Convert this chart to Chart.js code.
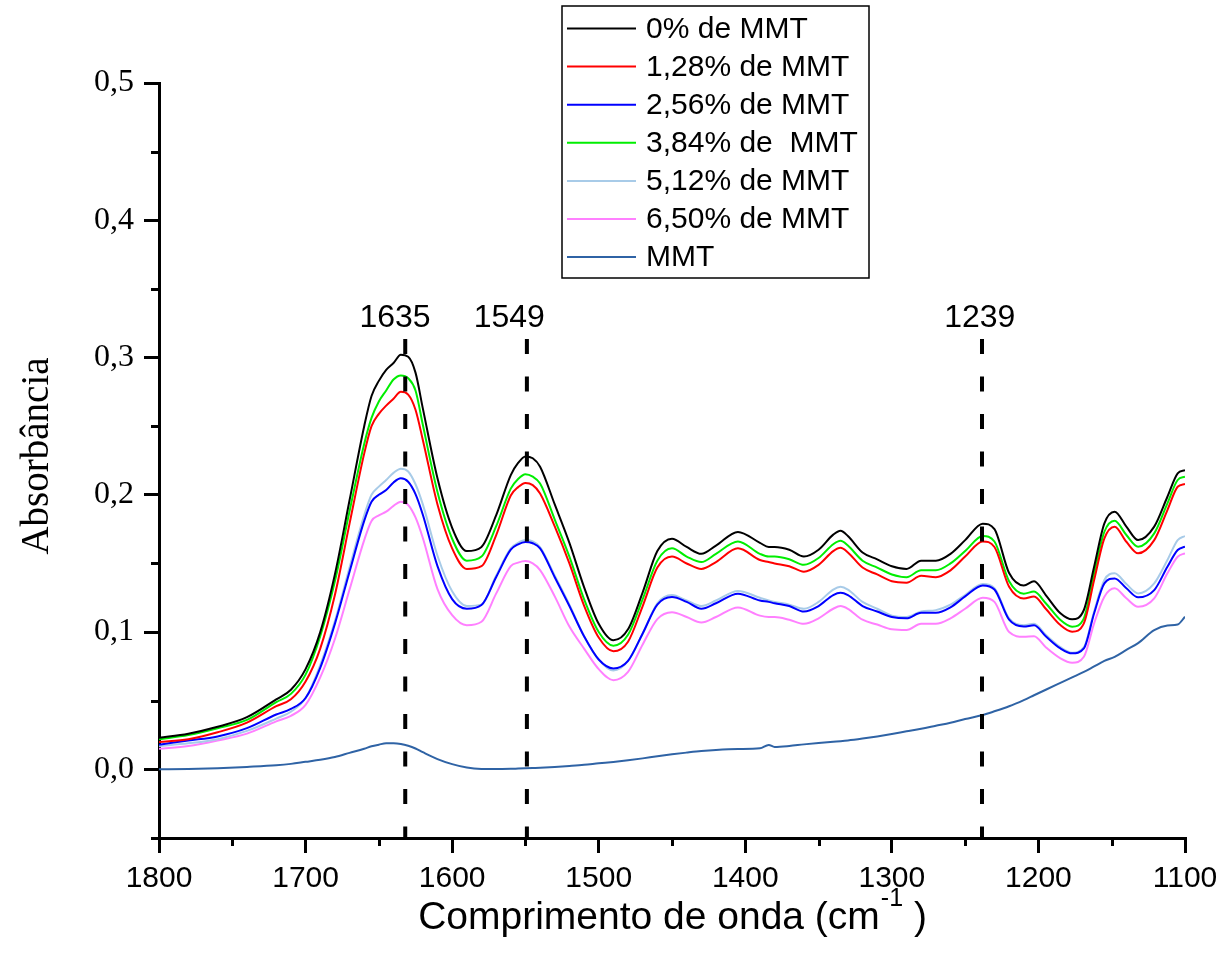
<!DOCTYPE html>
<html>
<head>
<meta charset="utf-8">
<script src="https://cdn.jsdelivr.net/npm/chart.js@4.4.1/dist/chart.umd.min.js"></script>
<style>
  body { margin: 0; background: #fff; }
  canvas { display: block; }
</style>
</head>
<body>
<canvas id="chart" width="1229" height="969"></canvas>
<script>
const wavenumber = [1800,1780,1760,1740,1720,1710,1700,1690,1680,1670,1660,1655,1650,1645,1640,1635,1630,1625,1620,1610,1600,1590,1580,1570,1560,1555,1550,1545,1540,1530,1520,1510,1500,1490,1480,1470,1460,1450,1440,1430,1420,1405,1390,1384,1380,1370,1360,1350,1340,1335,1330,1320,1310,1300,1290,1280,1270,1260,1250,1238,1230,1220,1210,1203,1195,1185,1177,1169,1162,1155,1148,1140,1132,1121,1112,1105,1100];

const mmt0 = [.023,.026,.031,.038,.051,.058,.073,.100,.142,.196,.250,.272,.283,.291,.296,.302,.3006,.289,.263,.212,.176,.159,.162,.185,.2144,.2232,.228,.2266,.2205,.193,.165,.1328,.106,.094,.102,.129,.159,.168,.162,.157,.163,.173,.165,.162,.162,.160,.155,.160,.171,.1738,.170,.158,.153,.148,.146,.152,.152,.157,.167,.179,.175,.143,.134,.137,.127,.1137,.1093,.1161,.1476,.1792,.1877,.1768,.167,.1768,.1986,.2156,.218];
const mmt128 = [.020,.022,.027,.034,.046,.051,.064,.088,.127,.179,.230,.250,.259,.265,.270,.275,.273,.262,.240,.193,.161,.146,.148,.1705,.1995,.2056,.2087,.2071,.201,.177,.150,.1193,.096,.086,.093,.119,.147,.155,.150,.146,.151,.161,.1525,.151,.150,.148,.144,.149,.159,.1614,.158,.147,.142,.137,.136,.141,.140,.145,.155,.166,.162,.133,.1245,.126,.117,.1051,.1003,.1064,.1379,.1683,.1768,.1658,.1574,.167,.1889,.2059,.2079];
const mmt256 = [.018,.021,.024,.030,.040,.044,.052,.074,.106,.144,.181,.195,.200,.2035,.209,.212,.2095,.2005,.1855,.148,.124,.117,.1197,.140,.160,.1639,.1657,.1647,.161,.140,.119,.097,.080,.0735,.079,.099,.120,.1255,.122,.117,.121,.128,.123,.122,.121,.119,.115,.119,.127,.1287,.127,.119,.115,.111,.110,.114,.114,.118,.126,.134,.131,.109,.104,.105,.097,.0881,.0845,.0881,.1137,.1355,.1391,.1319,.1253,.1306,.1476,.1598,.1622];
const mmt384 = [.022,.025,.030,.036,.049,.055,.069,.097,.137,.188,.237,.256,.268,.276,.284,.287,.285,.276,.251,.202,.168,.152,.155,.177,.2045,.2115,.215,.2132,.2083,.182,.155,.124,.100,.090,.098,.124,.152,.161,.155,.151,.157,.166,.157,.155,.155,.153,.149,.154,.164,.1665,.163,.152,.147,.142,.140,.145,.145,.150,.159,.170,.166,.137,.128,.1295,.121,.1088,.1039,.110,.1428,.1731,.1811,.1707,.1622,.1719,.1938,.2108,.2132];
const mmt512 = [.017,.019,.022,.028,.037,.042,.052,.076,.108,.147,.185,.200,.206,.2108,.216,.219,.217,.2077,.193,.1556,.1297,.119,.120,.141,.161,.165,.167,.166,.162,.141,.120,.097,.080,.072,.079,.099,.121,.127,.123,.119,.123,.130,.125,.123,.122,.120,.117,.122,.131,.133,.131,.122,.117,.112,.111,.115,.116,.120,.127,.135,.132,.110,.105,.106,.098,.089,.085,.089,.115,.138,.1428,.135,.1282,.1355,.1525,.167,.170];
const mmt650 = [.015,.017,.021,.026,.035,.039,.047,.067,.095,.131,.167,.181,.185,.1877,.192,.195,.1926,.1835,.1685,.1313,.1123,.105,.1075,.128,.148,.1506,.1517,.150,.1452,.126,.104,.088,.073,.065,.071,.091,.1095,.1145,.111,.107,.111,.118,.112,.111,.111,.109,.106,.110,.117,.119,.117,.109,.1055,.102,.1015,.106,.106,.110,.117,.125,.122,.100,.0966,.097,.089,.0809,.0777,.082,.1064,.1258,.1319,.1246,.1185,.1246,.1428,.1549,.1574];
const mmtPure = [0,.0002,.0008,.0018,.003,.004,.0055,.007,.009,.012,.015,.0168,.018,.019,.019,.0185,.0172,.0152,.0125,.0075,.0038,.0013,.0003,.0002,.0004,.0006,.0008,.001,.0012,.0018,.0025,.0033,.0044,.0054,.0066,.008,.0096,.011,.0122,.0133,.0141,.0148,.0153,.0178,.0163,.017,.0182,.0192,.0201,.0205,.021,.0224,.024,.0258,.0277,.0296,.0318,.034,.0367,.0396,.0423,.046,.0505,.054,.058,.063,.067,.071,.075,.079,.082,.087,.092,.1015,.1048,.1055,.1112];

const seriesNames = ['0% de MMT', '1,28% de MMT', '2,56% de MMT', '3,84% de  MMT', '5,12% de MMT', '6,50% de MMT', 'MMT'];
const seriesValues = [mmt0, mmt128, mmt256, mmt384, mmt512, mmt650, mmtPure];
const seriesColors = ['#000000', '#ff0000', '#0000ff', '#00ee00', '#a8cbe8', '#ff80ff', '#2f63a5'];

const peakLines = [1632, 1549, 1238.5];
const peakTexts = ['1635', '1549', '1239'];
const peakTextX = [1639, 1561, 1240];
const peakTextY = 0.329;
const peakLineTop = 0.3135;

const xTicks = [1800, 1700, 1600, 1500, 1400, 1300, 1200, 1100];
const xMinorTicks = [1750, 1650, 1550, 1450, 1350, 1250, 1150];
const yTicks = [0, 0.1, 0.2, 0.3, 0.4, 0.5];
const yMinorTicks = [-0.05, 0.05, 0.15, 0.25, 0.35, 0.45];

const SANS = "'Liberation Sans', Arial, sans-serif";
const SERIF = "'Liberation Serif', 'Times New Roman', serif";

const curveSets = seriesValues.map((vals, k) => ({
  label: seriesNames[k],
  data: wavenumber.map((w, i) => ({ x: w, y: vals[i] })),
  borderColor: seriesColors[k],
  borderWidth: 2,
  pointRadius: 0,
  cubicInterpolationMode: 'monotone',
  fill: false
}));

const dashSets = peakLines.map(p => ({
  label: 'peak ' + p,
  data: [{ x: p, y: peakLineTop }, { x: p, y: -0.05 }],
  borderColor: '#000',
  borderWidth: 4,
  borderDash: [15, 22.5],
  pointRadius: 0,
  fill: false
}));

const extras = {
  id: 'extras',
  afterDraw(chart) {
    const ctx = chart.ctx;
    const xs = chart.scales.x, ys = chart.scales.y;
    const area = chart.chartArea;
    ctx.save();

    // minor ticks
    ctx.strokeStyle = '#000';
    ctx.lineWidth = 3;
    ctx.beginPath();
    xMinorTicks.forEach(v => {
      const px = Math.round(xs.getPixelForValue(v)) + 0.5;
      ctx.moveTo(px, area.bottom);
      ctx.lineTo(px, area.bottom + 8);
    });
    yMinorTicks.forEach(v => {
      const py = Math.round(ys.getPixelForValue(v)) + 0.5;
      ctx.moveTo(area.left, py);
      ctx.lineTo(area.left - 8, py);
    });
    ctx.stroke();

    // peak labels
    ctx.fillStyle = '#000';
    ctx.font = '32px ' + SANS;
    ctx.textAlign = 'center';
    ctx.textBaseline = 'middle';
    peakTexts.forEach((t, i) => {
      ctx.fillText(t, xs.getPixelForValue(peakTextX[i]), ys.getPixelForValue(peakTextY));
    });

    // axis titles
    ctx.save();
    ctx.translate(38, 456);
    ctx.rotate(-Math.PI / 2);
    ctx.font = '39px ' + SERIF;
    ctx.textAlign = 'center';
    ctx.textBaseline = 'middle';
    ctx.fillText('Absorbância', 0, 0);
    ctx.restore();

    ctx.textAlign = 'left';
    ctx.textBaseline = 'alphabetic';
    const main = 'Comprimento de onda (cm';
    const sup = '-1';
    const tail = ' )';
    ctx.font = '39px ' + SANS;
    const w1 = ctx.measureText(main).width;
    const w3 = ctx.measureText(tail).width;
    ctx.font = '25px ' + SANS;
    const w2 = ctx.measureText(sup).width;
    let x0 = 672 - (w1 + w2 + w3) / 2;
    ctx.font = '39px ' + SANS;
    ctx.fillText(main, x0, 929);
    ctx.font = '25px ' + SANS;
    ctx.fillText(sup, x0 + w1 + 1, 906);
    ctx.font = '39px ' + SANS;
    ctx.fillText(tail, x0 + w1 + w2 + 1, 929);

    // legend
    ctx.fillStyle = '#fff';
    ctx.fillRect(562, 6, 307, 272);
    ctx.strokeStyle = '#000';
    ctx.lineWidth = 1.5;
    ctx.strokeRect(562, 6, 307, 272);
    ctx.font = '30px ' + SANS;
    ctx.textBaseline = 'middle';
    seriesNames.forEach((name, i) => {
      const y = 28.5 + i * 38.1;
      ctx.strokeStyle = seriesColors[i];
      ctx.lineWidth = 2;
      ctx.beginPath();
      ctx.moveTo(567, y);
      ctx.lineTo(636, y);
      ctx.stroke();
      ctx.fillStyle = '#000';
      ctx.fillText(name, 646, y + 1);
    });

    ctx.restore();
  }
};

new Chart(document.getElementById('chart'), {
  type: 'line',
  data: { datasets: dashSets.concat(curveSets) },
  options: {
    responsive: false,
    animation: false,
    devicePixelRatio: 1,
    layout: { padding: { top: 83, right: 44, left: 0, bottom: 0 } },
    plugins: { legend: { display: false }, tooltip: { enabled: false } },
    scales: {
      x: {
        type: 'linear',
        reverse: true,
        min: 1100,
        max: 1800,
        afterFit: s => { s.height = 131; },
        afterBuildTicks: s => { s.ticks = xTicks.map(v => ({ value: v })); },
        ticks: {
          color: '#000',
          font: { family: SANS, size: 30 },
          padding: 8,
          maxRotation: 0,
          callback: v => String(v)
        },
        grid: { display: true, drawOnChartArea: false, tickLength: 15, color: '#000', lineWidth: 3 },
        border: { display: true, color: '#000', width: 3 }
      },
      y: {
        type: 'linear',
        min: -0.05,
        max: 0.5,
        afterFit: s => { s.width = 159; },
        afterBuildTicks: s => { s.ticks = yTicks.map(v => ({ value: v })); },
        ticks: {
          color: '#000',
          font: { family: SERIF, size: 32 },
          padding: 10,
          callback: v => v.toFixed(1).replace('.', ',')
        },
        grid: { display: true, drawOnChartArea: false, tickLength: 15, color: '#000', lineWidth: 3 },
        border: { display: true, color: '#000', width: 3 }
      }
    }
  },
  plugins: [extras]
});
</script>
</body>
</html>
